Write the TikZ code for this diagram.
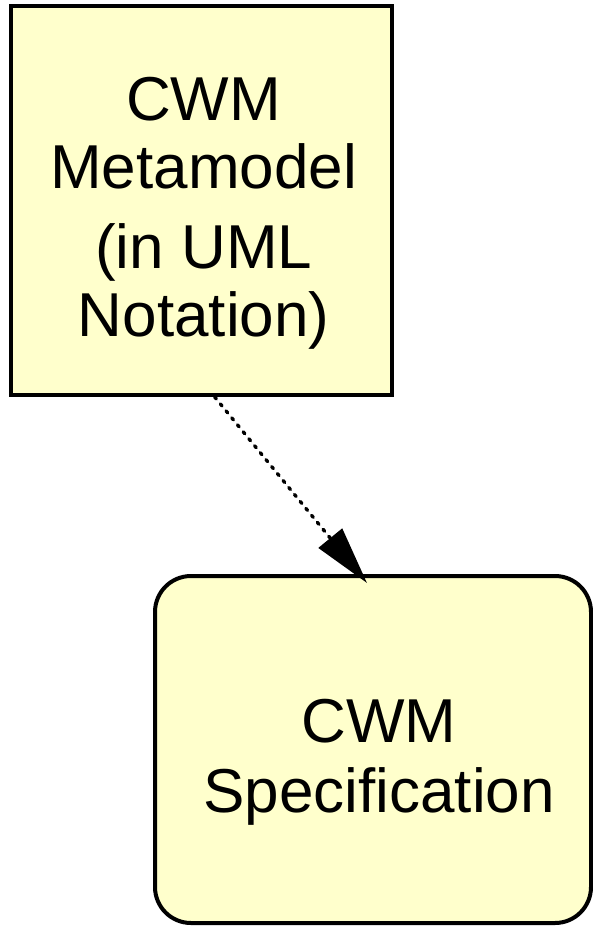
\documentclass[tikz,border=0pt]{standalone}
\usepackage{fontspec}
\setmainfont{Liberation Sans}
\usetikzlibrary{arrows.meta}
\definecolor{boxfill}{HTML}{FFFFCC}
\begin{document}
\begin{tikzpicture}[x=1pt,y=-1pt,
  boxstyle/.style={draw=black, line width=4pt, fill=boxfill, inner sep=0pt},
  txt/.style={font=\fontsize{62}{68}\selectfont, align=center, inner sep=0pt},
  depend/.style={line width=3.4pt, line cap=round, dash pattern=on 2.5pt off 6.5pt, -{Triangle[length=58pt,width=30pt]}}]
\useasboundingbox (0,0) rectangle (593,926);
\node[boxstyle, rectangle, minimum width=380.7pt, minimum height=389pt] (meta) at (201.7,200.5) {};
\node[txt] (metatext) at ([xshift=2pt,yshift=-12.5pt]meta.center) {CWM\\Metamodel\\[12pt](in UML\\Notation)};
\node[boxstyle, rounded corners=36pt, minimum width=436pt, minimum height=347pt] (spec) at (373,749.5) {};
\node[txt, font=\fontsize{62}{70}\selectfont] (spectext) at ([xshift=6pt,yshift=-13pt]spec.center) {CWM\\Specification};
\draw[depend] ([xshift=13pt]meta.south) -- ([xshift=-6pt,yshift=-9pt]spec.north);
\end{tikzpicture}
\end{document}
